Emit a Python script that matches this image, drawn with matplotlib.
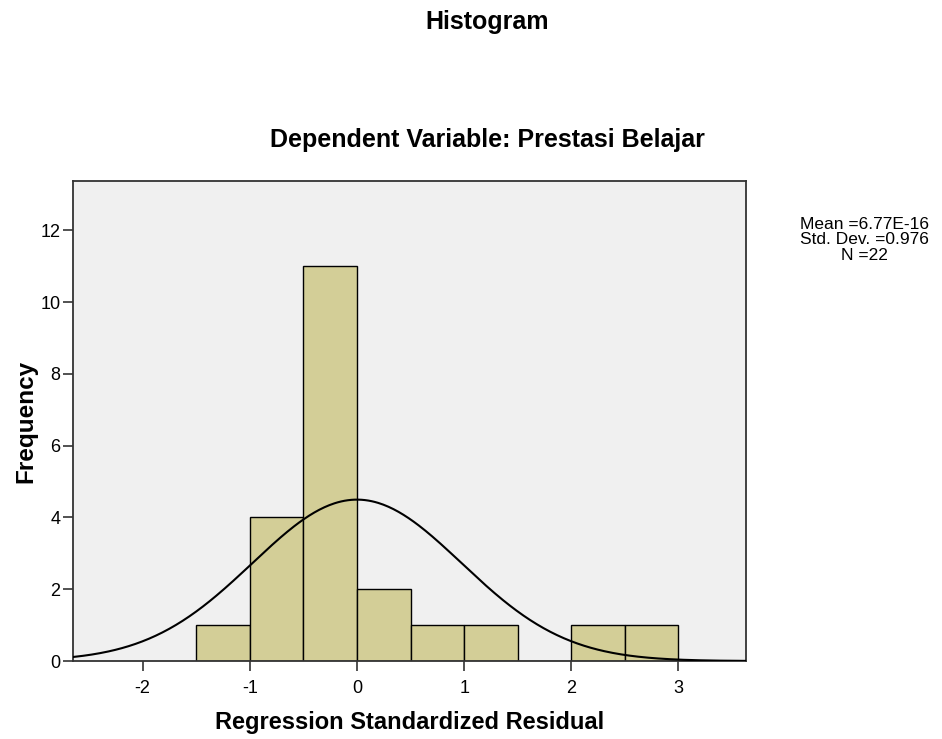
import numpy as np
import matplotlib.pyplot as plt

plt.rcParams['font.family'] = ['Liberation Sans', 'DejaVu Sans']
plt.rcParams['axes.unicode_minus'] = False

# bin edges and counts
bin_edges = [-1.5, -1.0, -0.5, 0.0, 0.5, 1.0, 1.5, 2.0, 2.5, 3.0]
counts = [1, 4, 11, 2, 1, 1, 0, 1, 1]
mean = 6.77e-16
std = 0.976
n = 22

fig = plt.figure(figsize=(9.42, 7.39), dpi=100)
ax = fig.add_axes([0.0775, 0.1055, 0.7144, 0.6495])
ax.set_facecolor('#f0f0f0')

lefts = bin_edges[:-1]
widths = np.diff(bin_edges)
ax.bar(lefts, counts, width=widths, align='edge', color='#d3ce97',
       edgecolor='black', linewidth=1.0, zorder=2)

# normal curve scaled to counts
xs = np.linspace(-2.65, 3.63, 400)
bw = widths[0]
ys = n * bw / (std * np.sqrt(2 * np.pi)) * np.exp(-0.5 * ((xs - mean) / std) ** 2)
ax.plot(xs, ys, color='black', linewidth=1.5, zorder=3)

ax.set_xlim(-2.65, 3.63)
ax.set_ylim(0, 13.37)
ax.set_xticks([-2, -1, 0, 1, 2, 3])
ax.set_yticks([0, 2, 4, 6, 8, 10, 12])
ax.tick_params(direction='out', length=7, width=1.2, labelsize=13, colors='#333333',
               labelcolor='black')
ax.tick_params(axis='x', pad=7)
ax.tick_params(axis='y', pad=2)
for s in ax.spines.values():
    s.set_color('#333333')
    s.set_linewidth(1.3)

ax.set_xlabel('Regression Standardized Residual', fontsize=17, fontweight='bold', labelpad=10)
ax.set_ylabel('Frequency', fontsize=17.5, fontweight='bold', labelpad=2)

fig.text(0.517, 0.97, 'Histogram', ha='center', va='center', fontsize=18, fontweight='bold')
fig.text(0.517, 0.81, 'Dependent Variable: Prestasi Belajar', ha='center', va='center',
         fontsize=18, fontweight='bold')
fig.text(0.918, 0.707, 'Mean =6.77E-16\nStd. Dev. =0.976\nN =22', ha='center', va='top',
         fontsize=12.5, linespacing=1.05)

fig.savefig('out.png', dpi=100)
